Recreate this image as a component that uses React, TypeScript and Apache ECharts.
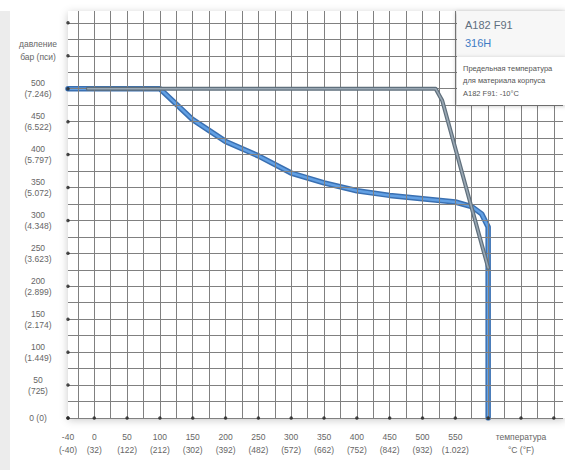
import React, { useEffect, useRef } from "react";
import * as echarts from "echarts";

// X axis ticks (°C) and their °F labels
const tempTicksC = [-40, 0, 50, 100, 150, 200, 250, 300, 350, 400, 450, 500, 550];
const tempTicksF = ["(-40)", "(32)", "(122)", "(212)", "(302)", "(392)", "(482)", "(572)", "(662)", "(752)", "(842)", "(932)", "(1.022)"];
const tempDotTicks = [-40, 0, 50, 100, 150, 200, 250, 300, 350, 400, 450, 500, 550, 600, 650, 700];
const tempAxisName = "температура\n°C (°F)";
const tempAxisNameAt = 650;

// Y axis ticks (bar) and their psi labels
const pressureTicksBar = [0, 50, 100, 150, 200, 250, 300, 350, 400, 450, 500];
const pressureTicksPsi = ["(0)", "(725)", "(1.449)", "(2.174)", "(2.899)", "(3.623)", "(4.348)", "(5.072)", "(5.797)", "(6.522)", "(7.246)"];
const pressureDotTicks = [0, 50, 100, 150, 200, 250, 300, 350, 400, 450, 500, 550, 600];
const pressureAxisName = "давление\nбар (пси)";

// Series: [°C, bar]
const seriesA182F91: number[][] = [
  [-10, 500], [520, 500], [530, 482], [600, 228],
];
const series316H: number[][] = [
  [-40, 500], [100, 500], [150, 453], [200, 420], [250, 398], [300, 372], [350, 357],
  [400, 345], [450, 338], [500, 333], [550, 328], [575, 321], [590, 310], [600, 290], [600, 0],
];

const legendTitle1 = "A182 F91";
const legendTitle2 = "316H";
const noteLines = ["Предельная температура", "для материала корпуса", "A182 F91: -10°C"];

const X_MIN = -40;
const X_MAX = 714;
const Y_MIN = 0;
const Y_MAX = 618;
const GRID_STEP = 25;

const FONT = "'Liberation Sans', Arial, sans-serif";

export default function App() {
  const ref = useRef<HTMLDivElement>(null);
  useEffect(() => {
    document.body.style.margin = "0";
    if (!ref.current) return;
    const chart = echarts.init(ref.current, undefined, { renderer: "svg" });

    const vLines: any[] = [];
    for (let v = -25; v <= X_MAX; v += GRID_STEP) vLines.push({ xAxis: v });
    const hLines: any[] = [];
    for (let v = 0; v <= Y_MAX; v += GRID_STEP) hLines.push({ yAxis: v });

    const dots: number[][] = [];
    tempDotTicks.forEach((t) => dots.push([t, 0]));
    pressureDotTicks.forEach((p) => dots.push([X_MIN, p]));

    const labelC = [...tempTicksC, tempAxisNameAt];

    chart.setOption({
      animation: false,
      backgroundColor: "#ffffff",
      grid: { left: 68, right: 2, top: 11, bottom: 52, containLabel: false },
      xAxis: {
        type: "value",
        min: X_MIN,
        max: X_MAX,
        axisLine: { show: false },
        axisTick: { show: false },
        splitLine: { show: false },
        axisLabel: {
          customValues: labelC,
          margin: 12,
          fontSize: 8.5,
          lineHeight: 13,
          color: "#666",
          fontFamily: FONT,
          align: "center",
          formatter: (v: number) => {
            if (v === tempAxisNameAt) return tempAxisName;
            const i = tempTicksC.indexOf(v);
            return i >= 0 ? `${v}\n${tempTicksF[i]}` : "";
          },
        },
      },
      yAxis: {
        type: "value",
        min: Y_MIN,
        max: Y_MAX,
        axisLine: { show: false },
        axisTick: { show: false },
        splitLine: { show: false },
        axisLabel: {
          customValues: pressureTicksBar,
          margin: 30,
          align: "center",
          fontSize: 8.5,
          lineHeight: 11,
          color: "#666",
          fontFamily: FONT,
          formatter: (v: number) => {
            const i = pressureTicksBar.indexOf(v);
            if (i < 0) return "";
            if (v === 0) return `${v} ${pressureTicksPsi[i]}`;
            return `${v}\n${pressureTicksPsi[i]}`;
          },
        },
      },
      series: [
        {
          type: "line",
          name: "grid",
          data: [[X_MIN, 0]],
          symbol: "none",
          lineStyle: { opacity: 0 },
          silent: true,
          z: 1,
          markLine: {
            silent: true,
            symbol: ["none", "none"],
            label: { show: false },
            lineStyle: { color: "#808080", width: 1, type: "solid" },
            data: [...vLines, ...hLines],
          },
        },
        {
          type: "line",
          name: "316H-outer",
          data: series316H,
          symbol: "none",
          z: 3,
          lineStyle: { color: "#3a70b2", width: 5.5, join: "round", cap: "round" },
        },
        {
          type: "line",
          name: "316H-inner",
          data: series316H,
          symbol: "none",
          z: 4,
          lineStyle: { color: "#62a0e4", width: 2.5, join: "round", cap: "round" },
        },
        {
          type: "line",
          name: "A182-outer",
          data: seriesA182F91,
          symbol: "none",
          z: 5,
          lineStyle: { color: "#5f6f7c", width: 4, join: "round", cap: "round" },
        },
        {
          type: "line",
          name: "A182-inner",
          data: seriesA182F91,
          symbol: "none",
          z: 6,
          lineStyle: { color: "#9aa8b4", width: 1.6, join: "round", cap: "round" },
        },
        {
          type: "scatter",
          name: "ticks",
          data: dots,
          symbol: "circle",
          symbolSize: 3.5,
          clip: false,
          silent: true,
          z: 7,
          itemStyle: { color: "#222" },
        },
      ],
      graphic: [
        { type: "rect", z: 0, shape: { x: 0, y: 11, width: 10, height: 459 }, style: { fill: "#ececec" } },
        {
          type: "rect",
          z: 0,
          shape: { x: 68, y: 11, width: 497, height: 407 },
          style: { fill: "#ffffff", shadowBlur: 8, shadowColor: "rgba(0,0,0,0.22)", shadowOffsetX: 0, shadowOffsetY: 2 },
        },
        {
          type: "text",
          z: 10,
          x: 38,
          y: 50,
          style: {
            text: pressureAxisName,
            fill: "#666",
            font: `8.5px ${FONT}`,
            lineHeight: 13,
            textAlign: "center",
            textVerticalAlign: "middle",
          },
        },
        {
          type: "rect",
          z: 100,
          shape: { x: 457, y: 11, width: 110, height: 46 },
          style: { fill: "#f7f7f7", shadowBlur: 4, shadowColor: "rgba(0,0,0,0.25)", shadowOffsetX: -1, shadowOffsetY: 1 },
        },
        {
          type: "rect",
          z: 101,
          shape: { x: 457, y: 57, width: 110, height: 48 },
          style: { fill: "#ffffff", shadowBlur: 4, shadowColor: "rgba(0,0,0,0.25)", shadowOffsetX: -1, shadowOffsetY: 1 },
        },
        {
          type: "text",
          z: 102,
          x: 465,
          y: 25,
          style: { text: legendTitle1, fill: "#5f6f7e", font: `11px ${FONT}`, textVerticalAlign: "middle" },
        },
        {
          type: "text",
          z: 102,
          x: 465,
          y: 43,
          style: { text: legendTitle2, fill: "#3f7bc4", font: `11px ${FONT}`, textVerticalAlign: "middle" },
        },
        ...noteLines.map((t, i) => ({
          type: "text",
          z: 102,
          x: 463,
          y: 68 + i * 12.5,
          style: { text: t, fill: "#555", font: `7.5px ${FONT}`, textVerticalAlign: "middle" },
        })),
      ],
    });
    return () => chart.dispose();
  }, []);
  return <div ref={ref} style={{ width: 565, height: 470 }} />;
}
